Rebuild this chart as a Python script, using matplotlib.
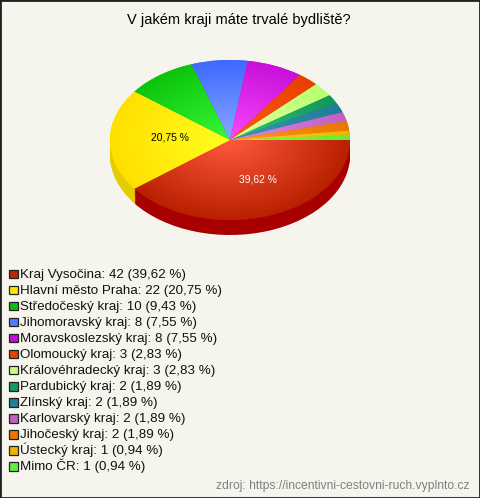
import numpy as np
import matplotlib
matplotlib.use("Agg")
import matplotlib.pyplot as plt
from matplotlib.patches import Rectangle
from matplotlib.colors import to_rgb

plt.rcParams['font.family'] = ['Liberation Sans', 'DejaVu Sans']

title = "V jakém kraji máte trvalé bydliště?"
source = "zdroj: https://incentivni-cestovni-ruch.vyplnto.cz"
categories = ["Kraj Vysočina", "Hlavní město Praha", "Středočeský kraj", "Jihomoravský kraj",
              "Moravskoslezský kraj", "Olomoucký kraj", "Královéhradecký kraj", "Pardubický kraj",
              "Zlínský kraj", "Karlovarský kraj", "Jihočeský kraj", "Ústecký kraj", "Mimo ČR"]
counts = [42, 22, 10, 8, 8, 3, 3, 2, 2, 2, 2, 1, 1]
percent_text = ["39,62", "20,75", "9,43", "7,55", "7,55", "2,83", "2,83",
                "1,89", "1,89", "1,89", "1,89", "0,94", "0,94"]
legend_colors = ["#b52a08", "#ffe600", "#12bb12", "#4f7dff", "#c010d8", "#e04400", "#c8ff80",
                 "#149a60", "#1f7f98", "#c060c0", "#e87800", "#f0b400", "#60f040"]
inner_colors = ["#ff5a3c", "#ffff20", "#38f838", "#88a8ff", "#fa48ff", "#ff5a18", "#e0ffa0",
                "#38c080", "#3c98b0", "#e488e0", "#ff9a20", "#ffcc30", "#80ff48"]
outer_colors = ["#b82000", "#ffe000", "#0cc40c", "#4068ff", "#c810d8", "#e84000", "#b8ff70",
                "#109858", "#207c98", "#c060c0", "#e87800", "#f0b400", "#60f030"]
side_colors = ["#a80000", "#e4cc00", "#0a9a0a", "#3050c0", "#9000a8", "#b03000", "#90c050",
               "#0c7040", "#185c70", "#904890", "#b05c00", "#b88a00", "#48b030"]
BG = "#f5f5ee"
W, H = 480, 498

fig = plt.figure(figsize=(W / 100, H / 100), dpi=100, facecolor=BG)
fig.add_artist(Rectangle((0, 0), 1, 1, transform=fig.transFigure, fill=False,
                         edgecolor="#222222", linewidth=2))

depth = 15 / 80
ax = fig.add_axes([110 / W, 1 - 235 / H, 240 / W, 175 / H])
for d in np.linspace(depth, 0.01, 16):
    ax.pie(counts, colors=side_colors, startangle=0, counterclock=False, center=(0, -d), radius=1, frame=True)
wedges, _ = ax.pie(counts, colors=outer_colors, startangle=0, counterclock=False, center=(0, 0), radius=1,
                   frame=True)
ax.set_aspect('auto')
ax.axis('off')

xx, yy = np.meshgrid(np.linspace(-1, 1, 480), np.linspace(1, -1, 320))
rr = np.clip(np.hypot(xx, yy), 0, 1)[..., None]
for wedge, c_in, c_out in zip(wedges, inner_colors, outer_colors):
    a, b = np.array(to_rgb(c_in)), np.array(to_rgb(c_out))
    img = a * (1 - rr) + b * rr
    im = ax.imshow(img, extent=(-1, 1, -1, 1), aspect='auto', zorder=5, interpolation='bilinear')
    im.set_clip_path(wedge)
ax.set_xlim(-1, 1)
ax.set_ylim(-1 - depth, 1)

def fig_px(x, y):
    return x / W, 1 - y / H

fig.text(*fig_px(169.5, 137), f"{percent_text[1]} %", fontsize=7.4, color="black", ha="center", va="center", zorder=10)
fig.text(*fig_px(257.5, 179), f"{percent_text[0]} %", fontsize=7.4, color="white", ha="center", va="center", zorder=10)
fig.text(*fig_px(238.5, 20), title, fontsize=10.5, color="black", ha="center", va="center")
fig.text(*fig_px(470, 486), source, fontsize=8.75, color="#808080", ha="right", va="center")

labels = [f"{c}: {n} ({p} %)" for c, n, p in zip(categories, counts, percent_text)]
leg = fig.add_axes([0, 0, 1, 1], facecolor="none")
leg.set_xlim(0, W)
leg.set_ylim(H, 0)
leg.axis('off')
for i, (label, color) in enumerate(zip(labels, legend_colors)):
    baseline = 277.5 + 16.08 * i
    leg.add_patch(Rectangle((9, baseline - 8), 8.5, 8.5, facecolor=color, edgecolor="#222222", linewidth=0.9))
    leg.text(20, baseline, label, fontsize=9.6, color="#111111", ha="left", va="baseline")

fig.savefig("out.png", dpi=100, facecolor=BG)
